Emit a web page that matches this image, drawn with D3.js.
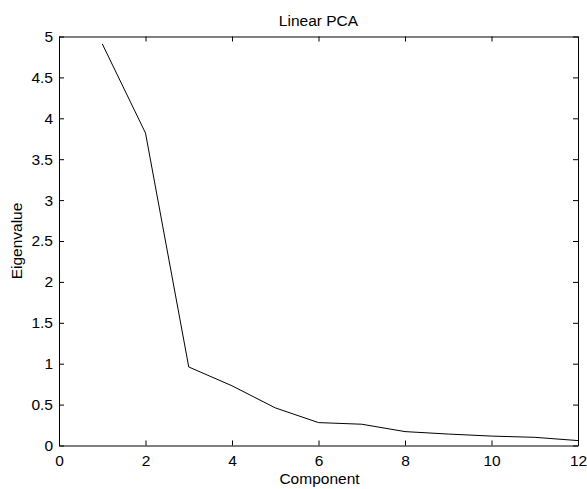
<html>
<meta charset="utf-8" />
<head>
<title>Linear PCA</title>
<script src="https://cdn.jsdelivr.net/npm/d3@7/dist/d3.min.js"></script>
<style>
	body { margin: 0; background: #fff; }
	svg { font-family: "Liberation Sans", Arial, Helvetica, sans-serif; }
	.axis path, .axis line { stroke: #000; }
	.axis text { font-size: 15.5px; fill: #000; font-family: "Liberation Sans", Arial, sans-serif; }
</style>
</head>
<body>
<svg width="587" height="489"></svg>
<script>
	// 성분 번호와 고유값
	const components = [1, 2, 3, 4, 5, 6, 7, 8, 9, 10, 11, 12];
	const eigenvalues = [4.91, 3.82, 0.96, 0.73, 0.46, 0.28, 0.26, 0.17, 0.14, 0.115, 0.10, 0.06];
	const xTicks = [0, 2, 4, 6, 8, 10, 12];
	const yTicks = [0, 0.5, 1, 1.5, 2, 2.5, 3, 3.5, 4, 4.5, 5];

	// 플롯 영역 (window.top 과 이름이 겹치지 않게)
	const plotLeft = 59, plotRight = 578, plotTop = 36.5, plotBottom = 445.5;

	const xScale = d3.scaleLinear().domain([0, 12]).range([plotLeft, plotRight]);
	const yScale = d3.scaleLinear().domain([0, 5]).range([plotBottom, plotTop]);

	const svg = d3.select('svg');

	// 네 방향 축 (안쪽으로 향하는 눈금)
	svg.append('g').attr('class', 'axis')
		.attr('transform', `translate(0,${plotBottom})`)
		.call(d3.axisBottom(xScale).tickValues(xTicks).tickSizeInner(-5).tickSizeOuter(0).tickPadding(9.5).tickFormat(d3.format('')));
	svg.append('g').attr('class', 'axis')
		.attr('transform', `translate(${plotLeft},0)`)
		.call(d3.axisLeft(yScale).tickValues(yTicks).tickSizeInner(-5).tickSizeOuter(0).tickPadding(6).tickFormat(d3.format('')));
	svg.append('g').attr('class', 'axis')
		.attr('transform', `translate(0,${plotTop})`)
		.call(d3.axisTop(xScale).tickValues(xTicks).tickSizeInner(-5).tickSizeOuter(0).tickFormat(''));
	svg.append('g').attr('class', 'axis')
		.attr('transform', `translate(${plotRight},0)`)
		.call(d3.axisRight(yScale).tickValues(yTicks).tickSizeInner(-5).tickSizeOuter(0).tickFormat(''));

	const line = d3.line()
		.x((d, i) => xScale(components[i]))
		.y(d => yScale(d));

	svg.append('path')
		.datum(eigenvalues)
		.attr('d', line)
		.attr('fill', 'none')
		.attr('stroke', '#000')
		.attr('stroke-width', 1);

	svg.append('text')
		.attr('x', (plotLeft + plotRight) / 2).attr('y', 25.5)
		.attr('text-anchor', 'middle')
		.style('font-size', '15.5px')
		.text('Linear PCA');

	svg.append('text')
		.attr('x', (plotLeft + plotRight) / 2 + 1).attr('y', 484)
		.attr('text-anchor', 'middle')
		.style('font-size', '15.5px')
		.text('Component');

	svg.append('text')
		.attr('transform', `translate(22,${(plotTop + plotBottom) / 2}) rotate(-90)`)
		.attr('text-anchor', 'middle')
		.style('font-size', '15.5px')
		.text('Eigenvalue');
</script>
</body>
</html>
